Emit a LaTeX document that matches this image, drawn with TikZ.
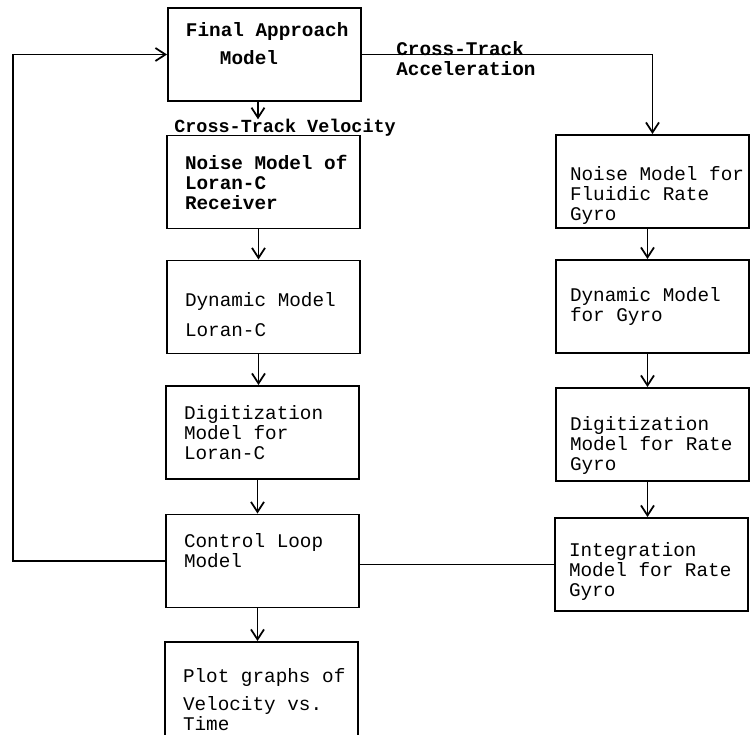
\documentclass[tikz,border=0pt]{standalone}
\usepackage{fontspec}
\usepackage{tikz}
\usetikzlibrary{arrows.meta}
\newfontfamily\typew{Liberation Mono}

\begin{document}
\begin{tikzpicture}[
        block/.style={draw, line width=1.1pt, minimum width=3.86cm, minimum height=1.86cm, inner xsep=0.05cm, inner ysep=0pt, text width=3.76cm, align=flush left, font=\typew\fontsize{11}{11.4}\selectfont},
        lblock/.style={block, execute at begin node={\leftskip=0.31cm\spaceskip=0pt}},
        rblock/.style={block, execute at begin node={\leftskip=0.23cm\spaceskip=0pt}},
        flow/.style={line width=1pt, -{Straight Barb[length=2mm, width=2.6mm]}},
        tag/.style={inner sep=0pt, align=left, font=\typew\bfseries\fontsize{11}{11.4}\selectfont}
    ]
        \useasboundingbox (0, 0) rectangle (15, 14.68);
        \clip (0, 0) rectangle (15, 14.68);
        % left column
        \node[lblock] (final) at (5.29, 13.59) {\bfseries Final Approach\\[4.5pt]\hspace*{0.68cm}Model\rule[-12.5pt]{0pt}{0pt}};
        \node[lblock] (lnoise) at (5.27, 11.04) {\bfseries Noise Model of\\Loran-C\\Receiver};
        \node[lblock] (ldyn) at (5.27, 8.54) {\rule{0pt}{17pt}Dynamic Model\\[5.6pt]Loran-C};
        \node[lblock] (ldig) at (5.25, 6.03) {Digitization\\Model for\\Loran-C};
        \node[lblock] (ctrl) at (5.25, 3.46) {Control Loop\\Model\rule[-11.5pt]{0pt}{0pt}};
        \node[lblock, minimum height=2.32cm] (plot) at (5.23, 0.68) {Plot graphs of\\[4.5pt]Velocity vs.\\Time};
        % right column
        \node[rblock] (gnoise) at (13.05, 11.05) {\rule{0pt}{24pt}Noise Model for\\Fluidic Rate\\Gyro};
        \node[rblock] (gdyn) at (13.05, 8.55) {Dynamic Model\\for Gyro};
        \node[rblock] (gdig) at (13.05, 5.99) {\rule{0pt}{20.5pt}Digitization\\Model for Rate\\Gyro};
        \node[rblock] (integ) at (13.03, 3.39) {\rule{0pt}{16pt}Integration\\Model for Rate\\Gyro};
        % signal names
        \node[tag, anchor=base west, font=\typew\bfseries\fontsize{10.5}{11}\selectfont] (vel) at (3.48, 12.02) {Cross-Track Velocity};
        \node[tag, anchor=west] (acc) at (7.92, 13.50) {Cross-Track\\Acceleration};
        \coordinate (back) at (0.26, 0);

        \draw[flow] ([xshift=-0.13cm]final.south) -- ([xshift=-0.13cm]final.south |- vel.north);
        \draw[flow] (final.east) -| (gnoise.north);
        \foreach \a/\b in {lnoise/ldyn, ldyn/ldig, ldig/ctrl, ctrl/plot, gnoise/gdyn, gdyn/gdig, gdig/integ}
            \draw[flow] ([xshift=-0.1cm]\a.south) -- ([xshift=-0.1cm]\a.south |- \b.north);
        \draw[line width=1pt] (integ.west) -- (integ.west -| ctrl.east);
        \draw[flow] (ctrl.west) -- (ctrl.west -| back) -- (final.west -| back) -- (final.west);
\end{tikzpicture}
\end{document}
